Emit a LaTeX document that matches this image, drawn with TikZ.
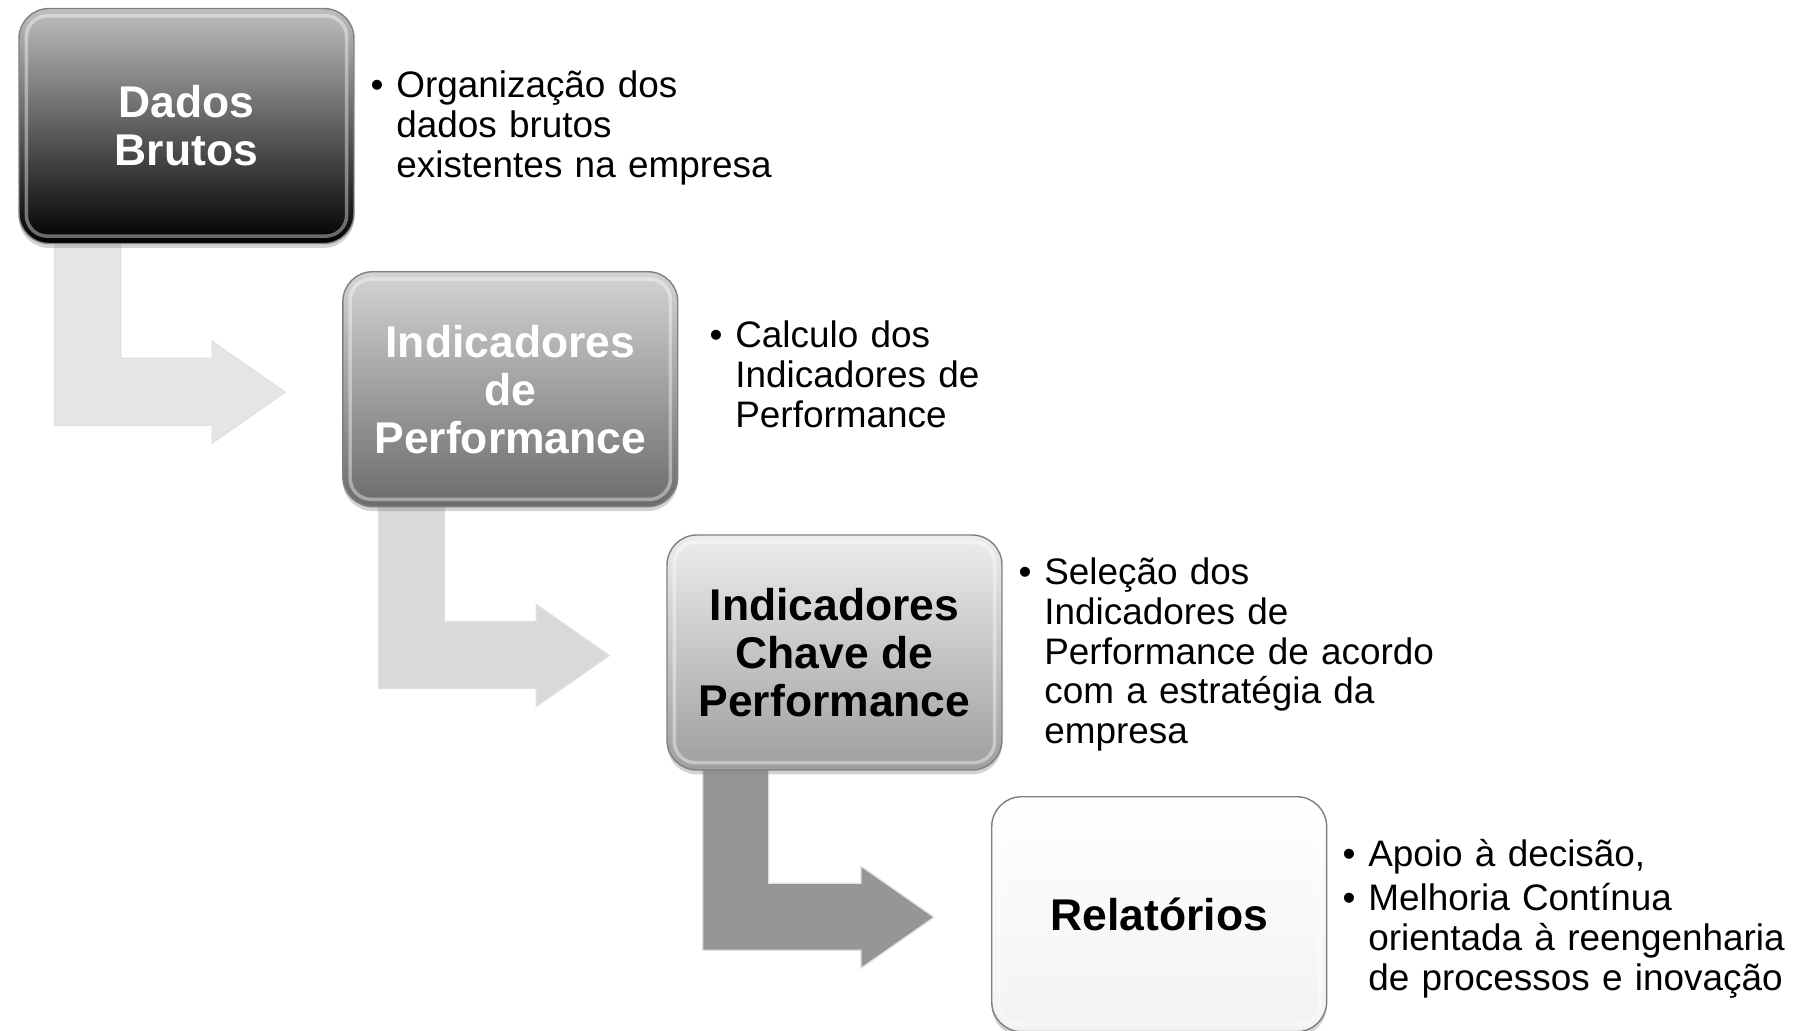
\documentclass[tikz,border=0pt]{standalone}
\usepackage{fontspec}
\setmainfont{Liberation Sans}
\usetikzlibrary{calc,shadows,backgrounds}
\newcommand\marcador{\leavevmode\llap{\textbullet\hspace{7.3pt}}}

\begin{document}
\begin{tikzpicture}[x=0.02cm,y=-0.02cm,
		etapa/.style={rounded corners=17pt, minimum width=6.7cm, minimum height=4.7cm, inner sep=0pt,
			draw=black!50, line width=0.8pt, align=center,
			font=\bfseries\fontsize{25.3}{27.3}\selectfont,
			drop shadow={opacity=0.35, shadow xshift=0pt, shadow yshift=-2.5pt}},
		descr/.style={anchor=base west, text width=9cm, align=left, inner sep=0pt,
			font={\fontsize{21}{22.7}\selectfont\lineskiplimit=-20pt}},
		seta/.style={draw=black!12, line width=0.7pt}]
		\useasboundingbox (0,0) rectangle (1800,1031);
		% etapas
		\node[etapa, top color=black!25, middle color=black!72, bottom color=black, text=white] (dados) at (186.5,126) {Dados\\Brutos};
		\node[etapa, top color=black!17, middle color=black!40, bottom color=black!58, text=white] (indic) at (510.3,389.2) {Indicadores\\de\\Performance};
		\node[etapa, top color=black!7, middle color=black!18, bottom color=black!38] (chave) at (834.5,652.5) {Indicadores\\Chave de\\Performance};
		\node[etapa, top color=white, bottom color=black!5] (relat) at (1159.2,914.2) {Relatórios};
		\foreach \n in {dados,indic,chave,relat}
		\draw[white, opacity=0.4, line width=2pt, rounded corners=12pt] ($(\n.south west)+(8,-8)$) rectangle ($(\n.north east)+(-8,8)$);
		% descricoes
		\node[descr] (desc1) at (396,97.7) {\marcador Organização dos\\dados brutos\\existentes na empresa};
		\node[descr] (desc2) at (735,347.3) {\marcador Calculo dos\\Indicadores de\\Performance};
		\node[descr] (desc3) at (1044,584.3) {\marcador Seleção dos\\Indicadores de\\Performance de acordo\\com a estratégia da\\empresa};
		\node[descr] (desc4) at (1368,866.7) {\marcador Apoio à decisão,\\[2.5pt]\marcador Melhoria Contínua\\orientada à reengenharia\\de processos e inovação};
		% setas
		\begin{pgfonlayer}{background}
		\foreach \a/\b/\cor in {dados/indic/black!10, indic/chave/black!15, chave/relat/black!41}
		\filldraw[seta, fill=\cor] ($(\a.south west)+(36.5,-5)$) -- ($(\a.south west)+(102.5,-5)$) |- ($(\b.west)+(-130,-31)$)
		-- ($(\b.west)+(-130,-48)$) -- ($(\b.west)+(-57,3)$) -- ($(\b.west)+(-130,54)$) -- ($(\b.west)+(-130,36)$)
		-| ($(\a.south west)+(36.5,-5)$) -- cycle;
		\end{pgfonlayer}
	\end{tikzpicture}
\end{document}
